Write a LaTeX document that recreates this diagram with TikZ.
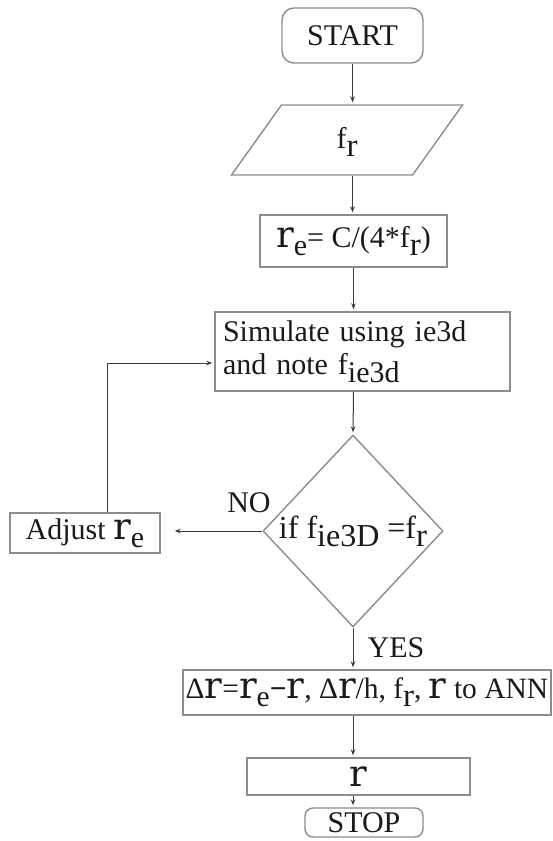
\documentclass[tikz,border=0pt]{standalone}
\usepackage{fontspec}
\setmainfont{Liberation Serif}
\newfontfamily\rfont{DejaVu Serif}
\usepackage{tikz}
\usetikzlibrary{positioning,shapes.geometric,arrows.meta}

\definecolor{boxgray}{HTML}{8C8C8C}
\definecolor{linegray}{HTML}{3C3C3C}
\definecolor{textdark}{HTML}{1A1A1A}

\newcommand{\rbig}{{\rfont\fontsize{37}{37}\selectfont r}}
\newcommand{\rsub}{{\fontsize{33}{33}\selectfont r}}
\newcommand{\lo}[1]{\raisebox{-8pt}{#1}}

\tikzset{
    box/.style={draw=boxgray, line width=1.4pt, inner sep=0pt},
    term/.style={box, rounded corners=12pt},
    io/.style={box, trapezium, trapezium left angle=54.5, trapezium right angle=125.5, trapezium stretches body=true, text height=43pt, text depth=27pt},
    test/.style={box, diamond},
    arr/.style={draw=linegray, line width=1pt, -{Stealth[length=6pt,width=4.5pt]}, shorten >=2pt}
}

\begin{document}
\begin{tikzpicture}[x=1pt, y=-1pt, font=\fontsize{30}{33}\selectfont, text=textdark]
                \useasboundingbox (0,0) rectangle (552,841);

                %Nodes
                \node[term, minimum width=141pt, minimum height=55pt] at (352.5,35.5) (start) {START};
                \node[io, minimum width=231pt] at (347,140) (fr) {f\lo{\rsub}};
                \node[box, minimum width=187pt, minimum height=52pt] at (353.5,241) (re) {\rbig\lo{e}= C/(4*f\lo{\rsub})};
                \node[box, align=left, text width=279pt, inner xsep=8pt, minimum height=79pt] at (362.5,351.5) (sim) {Simulate using ie3d\\and note f\lo{ie3d}};
                \node[test, minimum width=180pt, minimum height=192pt] at (353,531) (check) {\makebox[0pt]{\smash{\raisebox{-7pt}{\fontsize{32}{32}\selectfont if f\lo{ie3D} =f\lo{\rsub}}}}};
                \node[box, minimum width=150pt, minimum height=40pt] at (85,533) (adjust) {Adjust \rbig\lo{e}};
                \node[box, minimum width=368pt, minimum height=45pt, font=\fontsize{29.5}{30}\selectfont] at (367,692.5) (ann) {Δ\rbig=\rbig\lo{e}\textbf{−}\rbig, Δ\rbig/h, f\lo{\rsub}, \rbig{} to ANN};
                \node[box, minimum width=223pt, minimum height=37pt] at (358.5,776.5) (out) {\rbig};
                \node[term, rounded corners=8pt, minimum width=118pt, minimum height=29pt] at (364,822.5) (stop) {STOP};

                %Labels
                \node at (249,503) (no) {NO};
                \node at (396,648) (yes) {YES};

                %Lines
                \draw[arr] (start.south) -- (start.south |- fr.north);
                \draw[arr] (start.south |- fr.south) -- (start.south |- re.north);
                \draw[arr] (re.south) -- (re.south |- sim.north);
                \draw[arr] (re.south |- sim.south) -- (check.north);
                \draw[arr, shorten >=14pt] (check.west) -- (check.west -| adjust.east);
                \draw[arr] ([xshift=22pt]adjust.north) |- ([yshift=-11.5pt]sim.west);
                \draw[arr] (check.south) -- (check.south |- ann.north);
                \draw[arr] (ann.south -| check.south) -- (check.south |- out.north);
                \draw[arr] (out.south -| check.south) -- (check.south |- stop.north);
            \end{tikzpicture}
\end{document}
